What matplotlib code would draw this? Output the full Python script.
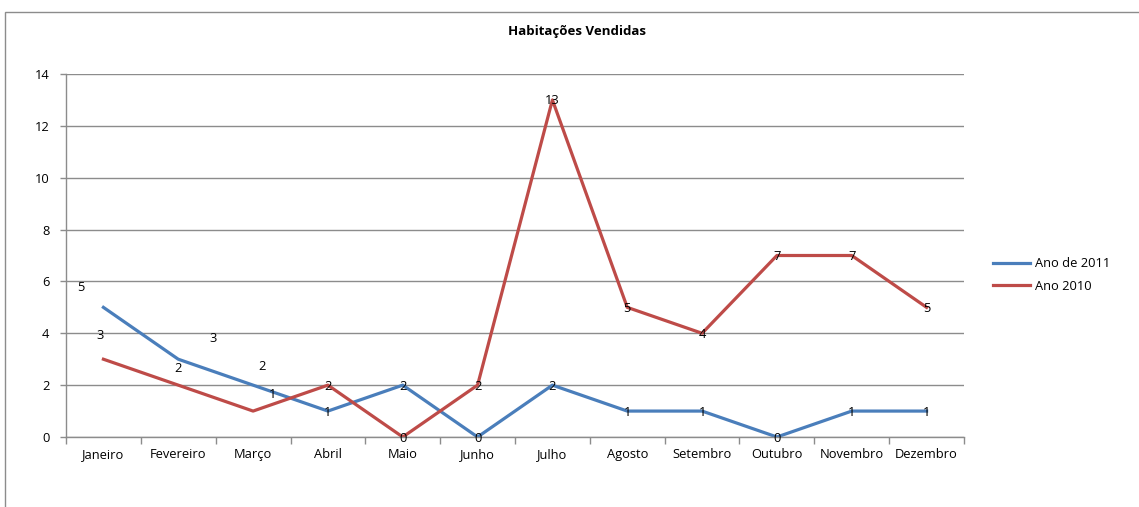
import numpy as np
import matplotlib.pyplot as plt
from matplotlib.patches import Rectangle

meses = ['Janeiro', 'Fevereiro', 'Março', 'Abril', 'Maio', 'Junho', 'Julho',
         'Agosto', 'Setembro', 'Outubro', 'Novembro', 'Dezembro']
ano_2011 = [5, 3, 2, 1, 2, 0, 2, 1, 1, 0, 1, 1]
ano_2010 = [3, 2, 1, 2, 0, 2, 13, 5, 4, 7, 7, 5]

# deslocamento (pixels) das etiquetas que foram arrastadas no original
desl_2011 = {0: (-23, 20), 1: (35, 21), 2: (9, 19)}
desl_2010 = {0: (-3, 24), 1: (0, 17), 2: (19, 17)}

plt.rcParams['font.family'] = ['Open Sans', 'DejaVu Sans']
cinza = '#8c8c8c'
azul = '#4a7ebb'
vermelho = '#be4b48'
fs = 9.3

fig = plt.figure(figsize=(11.39, 5.07), dpi=100)
ax = fig.add_axes([66 / 1139, 1 - 437 / 507, (964 - 66) / 1139, (437 - 74) / 507])

# moldura do gráfico
fig.patches.append(Rectangle((5 / 1139, -0.1), 1.1, 1 - 12 / 507 + 0.1,
                             transform=fig.transFigure, fill=False,
                             edgecolor=cinza, lw=1))

x = np.arange(len(meses))
ax.plot(x, ano_2011, color=azul, lw=2.3, label='Ano de 2011', solid_joinstyle='round')
ax.plot(x, ano_2010, color=vermelho, lw=2.3, label='Ano 2010', solid_joinstyle='round')

for serie, desl in ((ano_2011, desl_2011), (ano_2010, desl_2010)):
    for i, v in enumerate(serie):
        dx, dy = desl.get(i, (0, -1))
        ax.annotate(str(v), (i, v), xytext=(dx, dy), textcoords='offset pixels',
                    ha='center', va='center', fontsize=fs, color='black')

ax.set_xlim(-0.5, len(meses) - 0.5)
ax.set_ylim(0, 14)
ax.set_yticks(range(0, 15, 2))
ax.set_xticks(x)
ax.set_xticklabels(meses)
ax.set_xticks(np.arange(-0.5, len(meses), 1), minor=True)
ax.tick_params(axis='x', which='major', length=0, pad=8, labelsize=fs)
ax.tick_params(axis='x', which='minor', length=5, color=cinza, width=1)
ax.tick_params(axis='y', length=4, color=cinza, width=1, pad=8, labelsize=fs)

ax.grid(axis='y', color=cinza, lw=1)
ax.set_axisbelow(True)
for lado in ('top', 'right'):
    ax.spines[lado].set_visible(False)
for lado in ('left', 'bottom'):
    ax.spines[lado].set_color(cinza)
    ax.spines[lado].set_linewidth(1)

fig.text(577 / 1139, 1 - 32 / 507, 'Habitações Vendidas', ha='center', va='center',
         fontsize=9.5, fontweight='bold')

fig.legend(loc='center left', bbox_to_anchor=(981 / 1139, 1 - 275 / 507),
           frameon=False, fontsize=fs, handlelength=2.9, handletextpad=0.4,
           labelspacing=0.7)

fig.savefig('out.png', dpi=100)
